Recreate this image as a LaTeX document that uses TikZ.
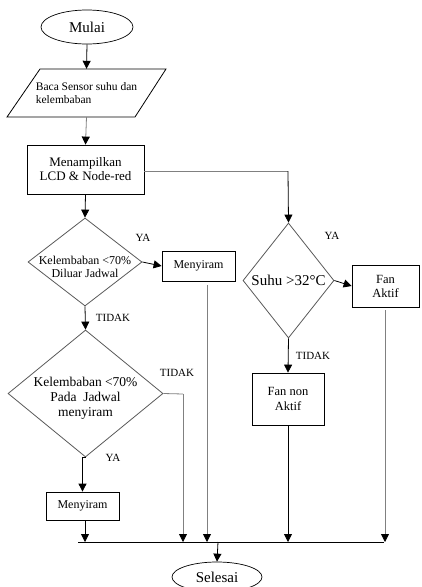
\documentclass[tikz,border=0pt]{standalone}
\usepackage{fontspec}
\setmainfont{Liberation Serif}
\usetikzlibrary{shapes.geometric,arrows.meta}
\begin{document}
\begin{tikzpicture}[x=1pt,y=-1pt,
  box/.style={draw, line width=0.8pt, inner sep=0pt, align=center},
  dia/.style={draw=black!65, diamond, inner sep=0pt, line width=0.8pt},
  term/.style={draw, ellipse, line width=0.7pt, inner sep=0pt},
  arr/.style={-{Triangle[length=8pt,width=8pt,color=black]}, line width=0.8pt},
  ln/.style={line width=0.8pt},
  gl/.style={draw=black!50},
  lab/.style={font=\fontsize{11}{12}\selectfont},
  t12/.style={font=\fontsize{12}{13}\selectfont, align=center},
]
\useasboundingbox (0,0) rectangle (421,587);

% terminals
\node[term, minimum width=92, minimum height=34, font=\fontsize{15}{16}\selectfont] (start) at (87,27) {Mulai};
\node[term, minimum width=90, minimum height=30, font=\fontsize{15}{16}\selectfont] (stop) at (217,577) {Selesai};

% input parallelogram
\draw[ln] (40,69) -- (166,69) -- (135,117) -- (7,117) -- cycle;
\node[minimum width=100, minimum height=48, inner sep=0pt, align=left, font=\fontsize{11.5}{13}\selectfont] (inp) at (86.5,93) {Baca Sensor suhu dan\\kelembaban};

% display
\node[box, font=\fontsize{13}{14}\selectfont, minimum width=117, minimum height=49] (disp) at (85.5,169.5) {Menampilkan\\LCD \& Node-red};

% decisions
\node[dia, minimum width=114, minimum height=88] (d1) at (85,262) {};
\node[t12] (d1t) at (85,267) {Kelembaban <70\%\\Diluar Jadwal};
\node[dia, minimum width=155, minimum height=127] (d2) at (85.5,393.5) {};
\node[font=\fontsize{13.5}{15}\selectfont, align=center] (d2t) at (85.5,398) {Kelembaban <70\%\\Pada\ \ Jadwal\\menyiram};
\node[dia, minimum width=91, minimum height=115] (d3) at (288.5,280.5) {};
\node[font=\fontsize{15}{16}\selectfont] (d3t) at (288.5,280) {Suhu >32°C};

% process boxes
\node[box, t12, minimum width=73, minimum height=30] (m1) at (198.5,266) {Menyiram};
\node[box, t12, minimum width=73, minimum height=28] (m2) at (82.5,506) {Menyiram};
\node[box, t12, minimum width=67, minimum height=42, font=\fontsize{12.5}{14}\selectfont] (fa) at (385.5,286) {Fan\\Aktif};
\node[box, t12, minimum width=72, minimum height=52, font=\fontsize{12.5}{15}\selectfont] (fn) at (288,399) {Fan non\\Aktif};

% labels
\node[lab] (ya1) at (143,238) {YA};
\node[lab] (td1) at (113,318) {TIDAK};
\node[lab] (td2) at (177,373) {TIDAK};
\node[lab] (ya2) at (113,458) {YA};
\node[lab] (ya3) at (332,236) {YA};
\node[lab] (td3) at (313,356) {TIDAK};

% merge coordinates
\coordinate (mL) at (78,542);
\coordinate (mR) at (384,542);
\coordinate (c1) at (183,394);
\coordinate (c2) at (288,171);

% connectors
\draw[arr] (start.south) -- (inp.north);
\draw[arr, gl] (inp.south) -- (disp.north);
\draw[arr] (disp.south) -- (d1.north);
\draw[ln, gl] (disp.east |- c2) -- (c2);
\draw[arr] (c2) -- (d3.north);
\draw[arr] (d1.east) -- (m1.west);
\draw[arr] (d1.south) -- (d2.north);
\draw[ln, gl] (d2.east) -- (c1);
\draw[arr, gl] (c1) -- (c1 |- mL);
\draw[arr] (d2.south) -- (m2.south |- d2.south) -- (m2.north);
\draw[arr] (m2.south -| 85,0) -- (85,542);
\draw[arr, gl] (207,285) -- (207,542);
\draw[arr] (d3.east) -- (fa.west);
\draw[arr] (d3.south) -- (fn.north);
\draw[arr] (fn.south) -- (fn.south |- mL);
\draw[arr, gl] (385,310) -- (385,542);
\draw[ln] (mL) -- (mR);
\draw[arr] (218,542) -- (stop.north);
\end{tikzpicture}
\end{document}
